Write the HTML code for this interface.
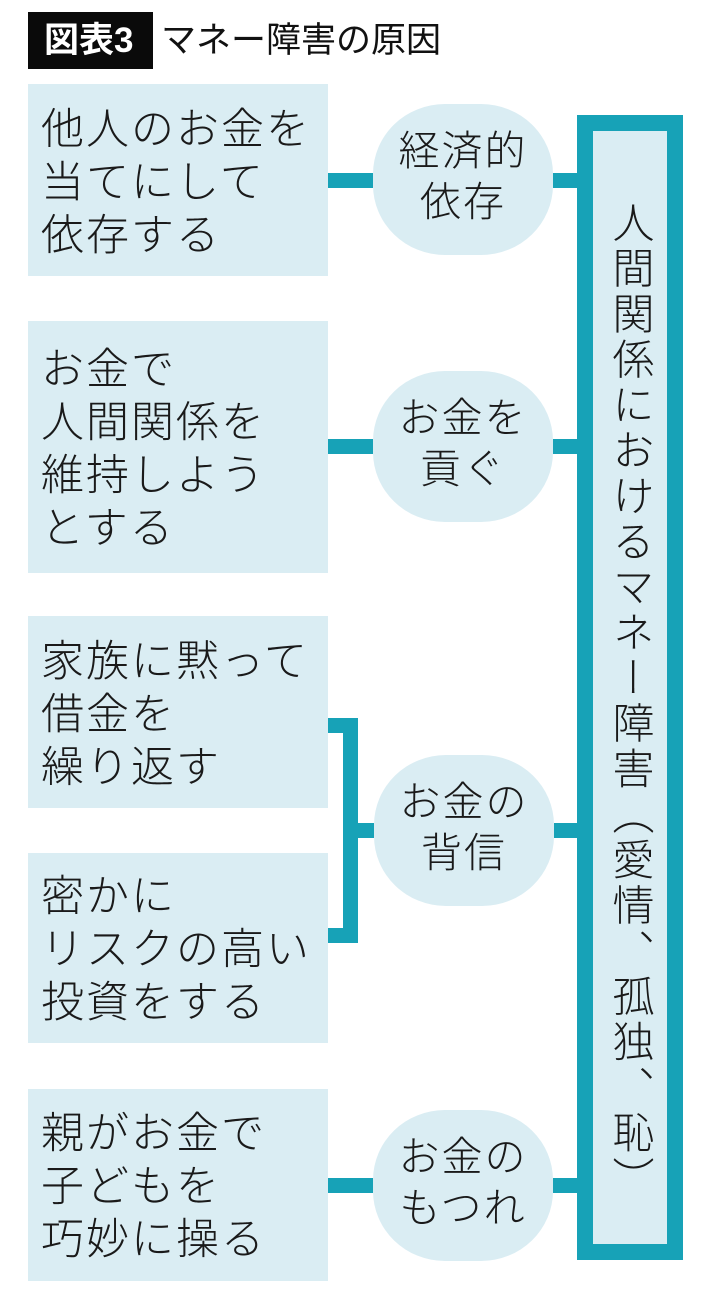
<!DOCTYPE html>
<html lang="ja">
<head>
<meta charset="utf-8">
<style>
  html, body { margin:0; padding:0; background:#fff; }
  body { width:710px; height:1295px; position:relative; overflow:hidden;
         font-family:"Liberation Sans","Noto Sans CJK JP",sans-serif; color:#1a1a1a; }
  .abs { position:absolute; }
  .teal { position:absolute; background:#17a2b7; }
  .box { position:absolute; left:28px; width:300px; background:#daedf3; }
  .btxt { position:absolute; left:41px; font-size:43px; line-height:53px; letter-spacing:2px;
          font-weight:300; white-space:nowrap; }
  .oval { position:absolute; left:373px; width:180px; height:151px; background:#daedf3;
          border-radius:72px / 70px; display:flex; align-items:center; justify-content:center;
          text-align:center; font-size:41px; line-height:51px; letter-spacing:2px; font-weight:300;
          padding-bottom:6px; box-sizing:border-box; }
</style>
</head>
<body>

<!-- Header -->
<div class="abs" style="left:28px;top:12px;width:125px;height:57px;background:#0a0a0a;"></div>
<div class="abs" style="left:44px;top:12px;height:57px;line-height:57px;font-size:35px;font-weight:bold;color:#fff;white-space:nowrap;">図表3</div>
<div class="abs" style="left:161px;top:12px;height:57px;line-height:57px;font-size:35px;font-weight:400;color:#111;white-space:nowrap;">マネー障害の原因</div>

<!-- Left boxes -->
<div class="box" style="top:84px;height:192px;"></div>
<div class="btxt" style="top:104px;">他人のお金を<br>当てにして<br>依存する</div>

<div class="box" style="top:321px;height:252px;"></div>
<div class="btxt" style="top:344px;">お金で<br>人間関係を<br>維持しよう<br>とする</div>

<div class="box" style="top:616px;height:192px;"></div>
<div class="btxt" style="top:636px;">家族に黙って<br>借金を<br>繰り返す</div>

<div class="box" style="top:853px;height:190px;"></div>
<div class="btxt" style="top:871px;">密かに<br>リスクの高い<br>投資をする</div>

<div class="box" style="top:1089px;height:192px;"></div>
<div class="btxt" style="top:1108px;">親がお金で<br>子どもを<br>巧妙に操る</div>

<!-- Ovals -->
<div class="oval" style="top:104px;">経済的<br>依存</div>
<div class="oval" style="top:371px;">お金を<br>貢ぐ</div>
<div class="oval" style="top:755px;left:374px;">お金の<br>背信</div>
<div class="oval" style="top:1110px;">お金の<br>もつれ</div>

<!-- Connectors -->
<div class="teal" style="left:328px;top:173px;width:45px;height:15px;"></div>
<div class="teal" style="left:553px;top:173px;width:26px;height:15px;"></div>

<div class="teal" style="left:328px;top:439px;width:45px;height:15px;"></div>
<div class="teal" style="left:553px;top:439px;width:26px;height:15px;"></div>

<!-- bracket -->
<div class="teal" style="left:328px;top:718px;width:30px;height:15px;"></div>
<div class="teal" style="left:343px;top:718px;width:15px;height:225px;"></div>
<div class="teal" style="left:328px;top:928px;width:30px;height:15px;"></div>
<div class="teal" style="left:357px;top:823px;width:17px;height:15px;"></div>
<div class="teal" style="left:554px;top:823px;width:25px;height:15px;"></div>

<div class="teal" style="left:328px;top:1178px;width:45px;height:15px;"></div>
<div class="teal" style="left:553px;top:1178px;width:26px;height:15px;"></div>

<!-- Big right box -->
<div class="abs" style="left:577px;top:115px;width:106px;height:1145px;box-sizing:border-box;border:16px solid #17a2b7;background:#daedf3;"></div>
<div class="abs" style="left:593px;top:201px;width:74px;height:1000px;writing-mode:vertical-rl;line-height:74px;font-size:42px;letter-spacing:3.5px;font-weight:300;white-space:nowrap;">人間関係におけるマネー障害（愛情、孤独、恥）</div>

</body>
</html>
